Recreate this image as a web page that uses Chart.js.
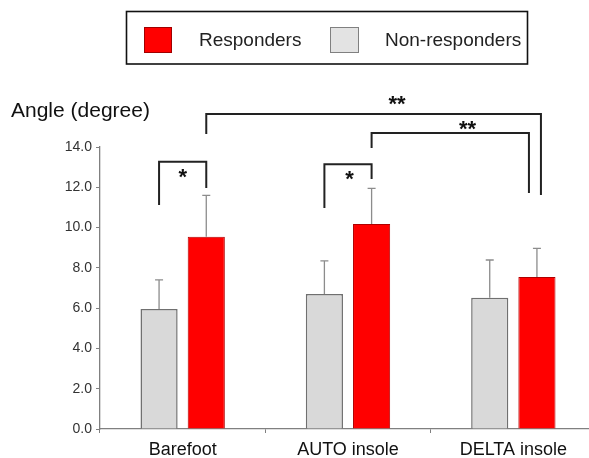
<!DOCTYPE html>
<html>
<head>
<meta charset="utf-8">
<script src="https://cdn.jsdelivr.net/npm/chart.js@4/dist/chart.umd.min.js"></script>
<style>
  html, body { margin: 0; padding: 0; overflow: hidden; background: #fff; }
</style>
</head>
<body>
<canvas id="angle" width="597" height="458"></canvas>
<script>
// values
var categories = ['Barefoot', 'AUTO insole', 'DELTA insole'];
var nonResponders = [5.96, 6.70, 6.52];
var nonRespondersErr = [1.44, 1.65, 1.87];
var responders = [9.55, 10.18, 7.55];
var respondersErr = [2.05, 1.77, 1.42];
var yMin = 0, yMax = 14, yStep = 2;

// significance brackets: [group, dataset] ends, top level, leg ends, label
var brackets = [
    { from: [0, 0], to: [0, 1], top: 13.27, legs: [11.12, 11.97], label: '*', at: 0.5, labelY: 12.80 },
    { from: [1, 0], to: [1, 1], top: 13.14, legs: [10.97, 12.41], label: '*', at: 0.53, labelY: 12.70 },
    { from: [0, 1], to: [2, 1], dx: [0, 4], top: 15.64, legs: [14.65, 11.62], label: '**', at: 0.57, labelY: 16.40 },
    { from: [1, 1], to: [2, 1], dx: [0, -8], top: 14.70, legs: [13.95, 11.72], label: '**', at: 0.61, labelY: 15.18 }
];

var errorBars = {
    id: 'errorBars',
    afterDatasetsDraw: function(chart) {
        var ctx = chart.ctx, y = chart.scales.y;
        var errs = [nonRespondersErr, respondersErr];
        ctx.save();
        ctx.strokeStyle = '#8c8c8c';
        ctx.lineWidth = 1.3;
        chart.data.datasets.forEach(function(ds, d) {
            chart.getDatasetMeta(d).data.forEach(function(bar, i) {
                var top = y.getPixelForValue(ds.data[i] + errs[d][i]);
                ctx.beginPath();
                ctx.moveTo(bar.x, bar.y);
                ctx.lineTo(bar.x, top);
                ctx.moveTo(bar.x - 4, top);
                ctx.lineTo(bar.x + 4, top);
                ctx.stroke();
            });
        });
        ctx.restore();
    }
};

var decorations = {
    id: 'decorations',
    afterDraw: function(chart) {
        var ctx = chart.ctx, y = chart.scales.y;
        ctx.save();

        // y title, horizontal
        ctx.fillStyle = '#111';
        ctx.font = '21px "Liberation Sans", Arial, sans-serif';
        ctx.textBaseline = 'alphabetic';
        ctx.textAlign = 'left';
        ctx.fillText('Angle (degree)', 11, 117);

        // legend box
        ctx.strokeStyle = '#111';
        ctx.lineWidth = 1.6;
        ctx.strokeRect(126.5, 11.5, 401, 52.5);
        ctx.lineWidth = 1;
        ctx.fillStyle = '#ff0000';
        ctx.fillRect(144, 27, 28, 26);
        ctx.strokeStyle = '#a00000';
        ctx.strokeRect(144.5, 27.5, 27, 25);
        ctx.fillStyle = '#e3e3e3';
        ctx.fillRect(330, 27, 29, 26);
        ctx.strokeStyle = '#808080';
        ctx.strokeRect(330.5, 27.5, 28, 25);
        ctx.fillStyle = '#222';
        ctx.font = '19px "Liberation Sans", Arial, sans-serif';
        ctx.textBaseline = 'middle';
        ctx.fillText('Responders', 199, 41);
        ctx.fillText('Non-responders', 385, 41);

        // brackets
        ctx.strokeStyle = '#222';
        ctx.lineWidth = 2;
        ctx.fillStyle = '#111';
        ctx.font = 'bold 22px "Liberation Sans", Arial, sans-serif';
        ctx.textAlign = 'center';
        ctx.textBaseline = 'alphabetic';
        brackets.forEach(function(b) {
            var dx = b.dx || [0, 0];
            var x1 = chart.getDatasetMeta(b.from[1]).data[b.from[0]].x + dx[0];
            var x2 = chart.getDatasetMeta(b.to[1]).data[b.to[0]].x + dx[1];
            var yt = y.getPixelForValue(b.top);
            ctx.beginPath();
            ctx.moveTo(x1, y.getPixelForValue(b.legs[0]));
            ctx.lineTo(x1, yt);
            ctx.lineTo(x2, yt);
            ctx.lineTo(x2, y.getPixelForValue(b.legs[1]));
            ctx.stroke();
            var lx = x1 + (x2 - x1) * b.at;
            ctx.fillText(b.label, lx, y.getPixelForValue(b.labelY) + 0.57 * 22);
        });
        ctx.restore();
    }
};

new Chart(document.getElementById('angle'), {
    type: 'bar',
    data: {
        labels: categories,
        datasets: [{
            label: 'Non-responders',
            data: nonResponders,
            backgroundColor: '#d9d9d9',
            borderColor: '#707070',
            borderWidth: 1.5
        }, {
            label: 'Responders',
            data: responders,
            backgroundColor: '#ff0000',
            borderColor: '#b00000',
            borderWidth: 1
        }]
    },
    options: {
        responsive: false,
        animation: false,
        layout: { padding: { top: 147, left: 0, right: 1, bottom: 0 } },
        datasets: { bar: { barPercentage: 0.787, categoryPercentage: 0.571 } },
        plugins: { legend: { display: false }, tooltip: { enabled: false } },
        scales: {
            x: {
                grid: { drawOnChartArea: false, drawTicks: true, tickLength: 4, color: '#808080', offset: true },
                border: { display: true, color: '#808080', width: 1.3 },
                ticks: { color: '#111', padding: 6, font: { size: 18, family: '"Liberation Sans", Arial, sans-serif' } },
                afterFit: function(s) { s.height = 29; }
            },
            y: {
                min: yMin,
                max: yMax,
                grid: { drawOnChartArea: false, drawTicks: true, tickLength: 4, color: '#808080' },
                border: { display: true, color: '#808080', width: 1.3 },
                ticks: {
                    stepSize: yStep,
                    padding: 4,
                    color: '#333',
                    font: { size: 14, family: '"Liberation Sans", Arial, sans-serif' },
                    callback: function(v) { return v.toFixed(1); }
                },
                afterFit: function(s) { s.width = 100; }
            }
        }
    },
    plugins: [errorBars, decorations]
});
</script>
</body>
</html>
